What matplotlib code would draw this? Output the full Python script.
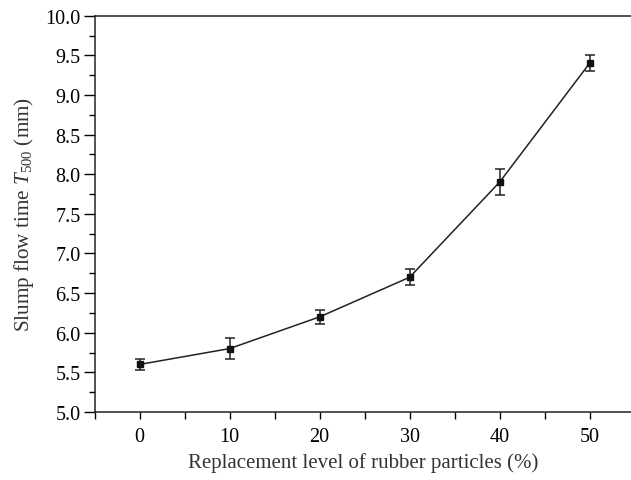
import matplotlib
matplotlib.use("Agg")
import matplotlib.pyplot as plt
import numpy as np

# replacement level of rubber particles (%) and measured T500 time
replacement = [0, 10, 20, 30, 40, 50]
t500 = [5.6, 5.8, 6.2, 6.7, 7.9, 9.4]
t500_err = [0.065, 0.13, 0.09, 0.1, 0.165, 0.1]

plt.rcParams['font.family'] = ['Liberation Serif', 'DejaVu Serif']
plt.rcParams['mathtext.fontset'] = 'custom'
plt.rcParams['mathtext.rm'] = 'Liberation Serif'
plt.rcParams['mathtext.it'] = 'Liberation Serif:italic'

fig = plt.figure(figsize=(6.31, 4.81), dpi=100)
ax = fig.add_axes([0.150, 0.1414, 0.850, 0.8239])

ax.errorbar(replacement, t500, yerr=t500_err, color='#222222', lw=1.1,
            marker='s', markersize=5, markerfacecolor='#111111',
            markeredgecolor='#111111', ecolor='#222222', elinewidth=1.1,
            capsize=3.5, capthick=1.1)

ax.set_xlim(-5, 54.6)
ax.set_ylim(5.0, 10.0)
ax.set_xticks(replacement)
ax.set_xticks(np.arange(-5, 50, 10), minor=True)
ax.set_yticks(np.arange(5.0, 10.01, 0.5))
ax.set_yticks(np.arange(5.25, 10.0, 0.5), minor=True)
ax.set_yticklabels([f'{v:.1f}' for v in np.arange(5.0, 10.01, 0.5)])

ax.spines['right'].set_visible(False)
for s in ['left', 'bottom', 'top']:
    ax.spines[s].set_linewidth(1.1)
    ax.spines[s].set_color('#222222')

ax.tick_params(axis='y', which='major', direction='out', length=8, width=1, labelsize=14.5, pad=2)
ax.tick_params(axis='y', which='minor', direction='out', length=4.5, width=1)
ax.tick_params(axis='x', which='both', direction='out', length=5, width=1, labelsize=14.5, pad=6)

ax.set_xlabel('Replacement level of rubber particles (%)', fontsize=15, color='#333333', labelpad=4)
ax.set_ylabel(r'Slump flow time $\mathit{T}_{\mathrm{500}}$ (mm)', fontsize=15.2, color='#333333', labelpad=7)

plt.savefig('out.png', dpi=100)
